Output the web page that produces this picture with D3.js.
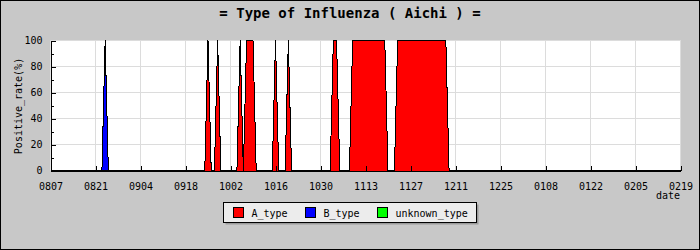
<!DOCTYPE html>
<html>
<head>
<meta charset="utf-8">
<script src="https://cdn.jsdelivr.net/npm/d3@7"></script>
<style>
body{margin:0;padding:0;background:#fff;}
text{font-family:"DejaVu Sans Mono",monospace;fill:#000;}
</style>
</head>
<body>
<script>
// chart period (one sample a day)
var startDate = "2009-08-07", endDate = "2010-02-19";
var tickDates = ["2009-08-07","2009-08-21","2009-09-04","2009-09-18","2009-10-02","2009-10-16","2009-10-30",
  "2009-11-13","2009-11-27","2009-12-11","2009-12-25","2010-01-08","2010-01-22","2010-02-05","2010-02-19"];
var yTicks = [0,20,40,60,80,100];
var yMinor = [10,30,50,70,90];
var seriesNames = ["A_type","B_type","unknown_type"];
var seriesColors = ["#ff0000","#0000ff","#00ff00"];

// days with a positive rate, every other day is 0
var aType = [["2009-09-25",100],["2009-09-28",100],["2009-10-05",100],["2009-10-07",100],["2009-10-08",100],
  ["2009-10-09",100],["2009-10-16",100],["2009-10-20",100],["2009-11-03",100],["2009-11-04",100],
  ["2009-11-09",100],["2009-11-10",100],["2009-11-11",100],["2009-11-12",100],["2009-11-13",100],
  ["2009-11-14",100],["2009-11-15",100],["2009-11-16",100],["2009-11-17",100],["2009-11-18",100],
  ["2009-11-19",100],["2009-11-23",100],["2009-11-24",100],["2009-11-25",100],["2009-11-26",100],
  ["2009-11-27",100],["2009-11-28",100],["2009-11-29",100],["2009-11-30",100],["2009-12-01",100],
  ["2009-12-02",100],["2009-12-03",100],["2009-12-04",100],["2009-12-05",100],["2009-12-06",100],
  ["2009-12-07",100],["2009-12-08",100]];
var bType = [["2009-08-24",100]];
var unknownType = [];

var W = 700, H = 250;
var parse = d3.utcParse("%Y-%m-%d");
var fmt = d3.utcFormat("%Y-%m-%d");

// daily table built from the lists above
var lookups = [new Map(aType), new Map(bType), new Map(unknownType)];
var days = d3.utcDay.range(parse(startDate), d3.utcDay.offset(parse(endDate), 1));
var table = days.map(function(d){
  var row = {date:d};
  seriesNames.forEach(function(k,i){ row[k] = lookups[i].get(fmt(d)) || 0; });
  return row;
});

var x = d3.scaleUtc().domain([parse(startDate), parse(endDate)]).range([50.5, 680.5]);
var y = d3.scaleLinear().domain([0,100]).range([170.5, 40.5]);

var svg = d3.select("body").append("svg")
  .attr("width", W).attr("height", H);

svg.append("rect")
  .attr("x",0.5).attr("y",0.5).attr("width",W-1).attr("height",H-1)
  .attr("fill","#c8c8c8").attr("stroke","#000");

svg.append("text")
  .attr("x", 350).attr("y", 18)
  .attr("text-anchor","middle")
  .style("font-size","14px").style("font-weight","bold")
  .text("= Type of Influenza ( Aichi ) =");

// plot area
svg.append("rect")
  .attr("x", x.range()[0]).attr("y", y(100))
  .attr("width", x.range()[1]-x.range()[0]).attr("height", y(0)-y(100))
  .attr("fill","#fff");

var grid = svg.append("g").attr("shape-rendering","crispEdges").attr("stroke","#dcdcdc");
grid.selectAll("line.v").data(tickDates.slice(1)).enter().append("line")
  .attr("x1", function(d){ return x(parse(d)); }).attr("x2", function(d){ return x(parse(d)); })
  .attr("y1", y(0)).attr("y2", y(100));
grid.selectAll("line.h").data(yTicks.slice(1)).enter().append("line")
  .attr("x1", x.range()[0]).attr("x2", x.range()[1])
  .attr("y1", function(d){ return y(d); }).attr("y2", function(d){ return y(d); });

var stack = d3.stack().keys(seriesNames);
var layers = stack(table);

var area = d3.area()
  .x(function(d){ return x(d.data.date); })
  .y0(function(d){ return y(d[0]); })
  .y1(function(d){ return y(d[1]); });
var topLine = d3.line()
  .x(function(d){ return x(d.data.date); })
  .y(function(d){ return y(d[1]); });

svg.append("g").selectAll("path").data(layers).enter().append("path")
  .attr("d", area)
  .attr("fill", function(d,i){ return seriesColors[i]; })
  .attr("shape-rendering","crispEdges");
svg.append("g").selectAll("path").data(layers).enter().append("path")
  .attr("d", topLine)
  .attr("fill","none").attr("stroke","#000").attr("stroke-width",1)
  .attr("shape-rendering","crispEdges");

// axes
var xAxis = svg.append("g").attr("transform","translate(0," + y(0) + ")")
  .call(d3.axisBottom(x)
    .tickValues(tickDates.map(parse))
    .tickFormat(d3.utcFormat("%m%d"))
    .tickSize(-5).tickSizeOuter(0).tickPadding(12));
var yAxis = svg.append("g").attr("transform","translate(" + x.range()[0] + ",0)")
  .call(d3.axisLeft(y).tickValues(yTicks).tickSize(-5).tickSizeOuter(0).tickPadding(8));
svg.append("g").attr("transform","translate(" + x.range()[0] + ",0)")
  .call(d3.axisLeft(y).tickValues(yMinor).tickSize(-3).tickSizeOuter(0).tickFormat(""))
  .select(".domain").remove();

svg.selectAll(".tick line, .domain")
  .attr("stroke","#000").attr("shape-rendering","crispEdges");
svg.selectAll(".tick text")
  .attr("fill","#000")
  .style("font-family","'DejaVu Sans Mono', monospace").style("font-size","10px");

svg.append("text")
  .attr("x", 680).attr("y", 199)
  .attr("text-anchor","end")
  .style("font-size","10px")
  .text("date");

svg.append("text")
  .attr("transform","translate(22,106) rotate(-90)")
  .attr("text-anchor","middle")
  .style("font-size","10px")
  .text("Positive_rate(%)");

// legend
var lg = svg.append("g").attr("transform","translate(223.5,202.5)");
lg.append("rect").attr("x",2).attr("y",2).attr("width",253).attr("height",20).attr("fill","#9a9a9a");
lg.append("rect").attr("width",253).attr("height",20).attr("fill","#ececec").attr("stroke","#000");
var itemX = [10, 82, 154];
var items = lg.selectAll("g.item").data(seriesNames).enter().append("g")
  .attr("transform", function(d,i){ return "translate(" + itemX[i] + ",0)"; });
items.append("rect")
  .attr("x",0).attr("y",5).attr("width",10).attr("height",10)
  .attr("fill", function(d,i){ return seriesColors[i]; })
  .attr("stroke","#000");
items.append("text")
  .attr("x",18).attr("y",14)
  .style("font-size","10px")
  .text(function(d){ return d; });
</script>
</body>
</html>
